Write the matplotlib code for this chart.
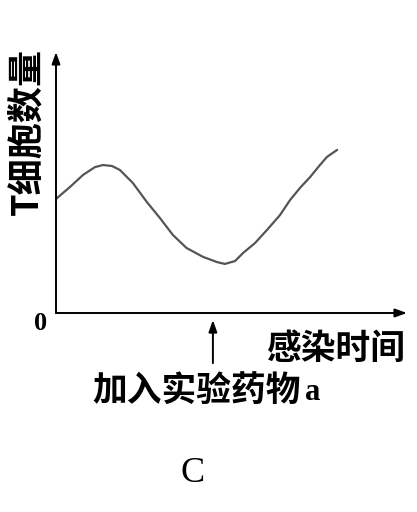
import numpy as np
from matplotlib import pyplot as plt

plt.rcParams['font.family'] = ['Noto Sans CJK SC', 'DejaVu Sans']

# curve (time, T cell count), arbitrary units
t = [0, 0.40, 0.77, 1.11, 1.34, 1.60, 1.82, 2.19, 2.59, 2.96, 3.33, 3.72,
     4.19, 4.59, 4.81, 5.10, 5.33, 5.67, 6.01, 6.38, 6.67, 6.95, 7.24,
     7.52, 7.72, 8.01]
cells = [4.37, 4.83, 5.29, 5.59, 5.67, 5.63, 5.48, 4.98, 4.25, 3.64, 2.99,
         2.49, 2.15, 1.95, 1.88, 1.99, 2.30, 2.68, 3.18, 3.75, 4.33, 4.79,
         5.21, 5.67, 5.98, 6.25]
drug_t = 4.47

W, H = 417, 512
fig = plt.figure(figsize=(W/100, H/100), dpi=100)
ax = fig.add_axes([56/W, (H-313)/H, (407-56)/W, (313-52)/H])
ax.set_xlim(0, 10)
ax.set_ylim(0, 10)
ax.axis('off')

ax.plot(t, cells, color='#555555', lw=1.6, solid_capstyle='round',
        solid_joinstyle='round')

arr = dict(arrowstyle='-|>,head_length=0.7,head_width=0.25', color='black',
           lw=1.4, shrinkA=0, shrinkB=0)
ax.annotate('', xy=(10, 0), xytext=(0, 0), arrowprops=arr, annotation_clip=False)
ax.annotate('', xy=(0, 10), xytext=(0, 0), arrowprops=arr, annotation_clip=False)
ax.annotate('', xy=(drug_t, -0.27), xytext=(drug_t, -1.92), arrowprops=arr,
            annotation_clip=False)

ax.text(-0.45, -0.4, '0', fontsize=19, fontfamily='Liberation Serif',
        fontweight='bold', ha='center', va='center')
ax.text(7.99, -1.35, '感染时间', fontsize=25, fontweight='bold',
        ha='center', va='center')
ax.text(4.0, -2.95, '加入实验药物', fontsize=25, fontweight='bold',
        ha='center', va='center')
ax.text(7.3, -3.05, 'a', fontsize=22, fontfamily='Liberation Serif',
        fontweight='bold', ha='center', va='center')
ax.text(-0.83, 6.95, 'T细胞数量', fontsize=26, fontweight='bold',
        rotation=90, ha='center', va='center')

fig.text(193/W, 1-473/H, 'C', fontsize=26, fontfamily='Liberation Serif',
         ha='center', va='center')

fig.savefig('out.png', dpi=100)
